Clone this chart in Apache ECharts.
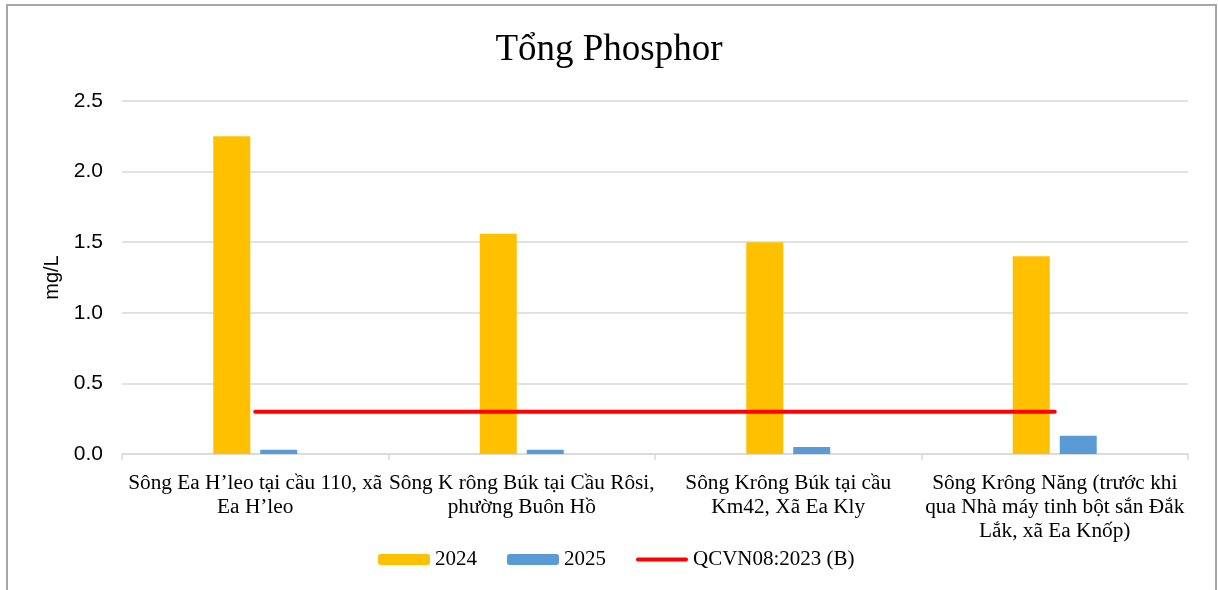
<!DOCTYPE html>
<html>
<head>
<meta charset="utf-8">
<style>
  html, body { margin: 0; padding: 0; background: #ffffff; }
  #chart { width: 1218px; height: 590px; }
</style>
<script src="https://cdn.jsdelivr.net/npm/echarts@6/dist/echarts.min.js"></script>
</head>
<body>
<div id="chart"></div>
<script>
// Monitoring sites (line breaks as printed under each column)
const sites = [
  'Sông Ea H’leo tại cầu 110, xã\nEa H’leo',
  'Sông K rông Búk tại Cầu Rôsi,\nphường Buôn Hồ',
  'Sông Krông Búk tại cầu\nKm42, Xã Ea Kly',
  'Sông Krông Năng (trước khi\nqua Nhà máy tinh bột sắn Đắk\nLắk, xã Ea Knốp)'
];

// Total phosphorus, mg/L
const values2024 = [2.25, 1.56, 1.50, 1.40];
const values2025 = [0.03, 0.03, 0.05, 0.13];

// QCVN 08:2023 column B limit
const limitQCVN = [0.3, 0.3, 0.3, 0.3];

const seriesNames = ['2024', '2025', 'QCVN08:2023 (B)'];

const serif = '"Liberation Serif", "Times New Roman", serif';
const sans = '"Liberation Sans", Arial, sans-serif';

// Thick red stroke with rounded ends for the limit line's legend entry
const limitIcon = 'path://M2,0H53A2,2 0 0 1 53,4H2A2,2 0 0 1 2,0Z';

const chart = echarts.init(document.getElementById('chart'), null, { renderer: 'canvas' });

chart.setOption({
  backgroundColor: '#ffffff',
  animation: false,
  graphic: [{
    type: 'rect',
    shape: { x: 7, y: 5, width: 1209, height: 620 },
    style: { fill: 'none', stroke: '#a6a6a6', lineWidth: 2 },
    silent: true,
    z: 0
  }],
  title: {
    text: 'Tổng Phosphor',
    left: 'center',
    top: 27,
    textStyle: { fontFamily: serif, fontSize: 37, fontWeight: 'normal', color: '#000000' }
  },
  legend: {
    data: [
      { name: seriesNames[0] },
      { name: seriesNames[1] },
      { name: seriesNames[2], icon: limitIcon }
    ],
    left: 373,
    top: 544,
    itemWidth: 52,
    itemHeight: 11,
    itemGap: 30,
    textStyle: { fontFamily: serif, fontSize: 21, color: '#000000' }
  },
  grid: { left: 122, right: 30, top: 101, bottom: 136, containLabel: false },
  xAxis: {
    type: 'category',
    data: sites,
    axisLine: { show: true, lineStyle: { color: '#d9d9d9', width: 1.5 } },
    axisTick: { show: true, length: 6, lineStyle: { color: '#d9d9d9', width: 1.5 } },
    axisLabel: {
      interval: 0,
      margin: 17,
      fontFamily: serif,
      fontSize: 21.3,
      lineHeight: 24,
      color: '#000000',
      align: 'center'
    }
  },
  yAxis: {
    type: 'value',
    min: 0,
    max: 2.5,
    interval: 0.5,
    name: 'mg/L',
    nameLocation: 'middle',
    nameGap: 58,
    nameTextStyle: { fontFamily: sans, fontSize: 20, color: '#000000' },
    axisLine: { show: false },
    axisTick: { show: false },
    axisLabel: {
      margin: 19,
      fontFamily: sans,
      fontSize: 21,
      color: '#000000',
      formatter: v => v.toFixed(1)
    },
    splitLine: { lineStyle: { color: '#d9d9d9', width: 1.5 } }
  },
  series: [
    {
      name: seriesNames[0],
      type: 'bar',
      data: values2024,
      barWidth: 37,
      barGap: '27%',
      itemStyle: { color: '#ffc000' }
    },
    {
      name: seriesNames[1],
      type: 'bar',
      data: values2025,
      barWidth: 37,
      barGap: '27%',
      itemStyle: { color: '#5b9bd5' }
    },
    {
      name: seriesNames[2],
      type: 'line',
      data: limitQCVN,
      symbol: 'none',
      lineStyle: { color: '#ff0000', width: 4, cap: 'round' },
      itemStyle: { color: '#ff0000' },
      z: 3
    }
  ]
});
</script>
</body>
</html>
